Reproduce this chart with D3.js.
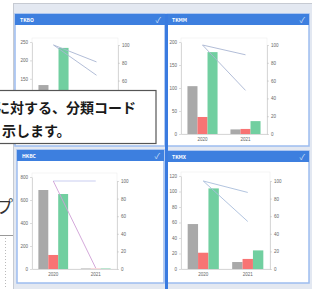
<!DOCTYPE html>
<html>
<head>
<meta charset="utf-8">
<script src="https://cdn.jsdelivr.net/npm/d3@7"></script>
<style>
html, body { margin: 0; padding: 0; background: #fff; overflow: hidden; }
svg { display: block; font-family: "Noto Sans CJK JP", "Noto Sans", sans-serif; }
</style>
</head>
<body>
<div id="chart"></div>
<script>
const years = ["2020", "2021"];
const barKeys = ["gray", "red", "green"];
const titles = ["TKBO", "TKMM", "HKBC", "TKMX"];
const grayValues = [[133, 12], [104, 10], [687, 4], [58, 9]];
const redValues = [[30, 8], [37, 11], [122, 2], [21, 13]];
const greenValues = [[234, 25], [178, 28], [652, 4], [104, 24]];
const lineAValues = [[100, 81], [100, 89], [100, 100], [100, 87]];
const lineBValues = [[100, 66], [100, 49], [100, 1], [100, 54]];
const leftMax = [250, 200, 800, 120];
const leftStep = [50, 50, 200, 20];
const rightTicks = [0, 20, 40, 60, 80, 100];
const calloutLines = ["に対する、分類コード", "示します。"];

const barColors = { gray: "#a9a9a9", red: "#f87474", green: "#71cfa0" };
const lineColors = [["#a9b6d3", "#a9b6d3"], ["#a9b6d3", "#a9b6d3"], ["#c3c7ee", "#cf9fd6"], ["#a9bddb", "#a9bddb"]];

// panel geometry
const layout = [
  { x: 15, y: 14, w: 150, h: 132, left: 32, right: 118, top: 42, base: 134, rTop: 45 },
  { x: 167, y: 14, w: 142, h: 132, left: 181, right: 267, top: 42, base: 134, rTop: 45 },
  { x: 17, y: 150, w: 147, h: 133, left: 32, right: 117, top: 177, base: 269, rTop: 181 },
  { x: 167, y: 151, w: 142, h: 132, left: 181, right: 270, top: 176, base: 269, rTop: 181 }
];

const svg = d3.select("#chart").append("svg")
  .attr("width", 312)
  .attr("height", 289);

// outer container
svg.append("rect")
  .attr("x", 13.5).attr("y", 3.5)
  .attr("width", 310).attr("height", 300)
  .style("fill", "#e3e8f1")
  .style("stroke", "#c6cad2");

layout.forEach((p, i) => {
  const card = svg.append("g");

  card.append("rect")
    .attr("x", p.x).attr("y", p.y)
    .attr("width", p.w).attr("height", p.h)
    .style("fill", "#fff")
    .style("stroke", "#9dbcef")
    .style("stroke-width", 1.5);

  card.append("rect")
    .attr("x", p.x).attr("y", p.y)
    .attr("width", p.w).attr("height", 11)
    .style("fill", "#3d7fdf");

  card.append("text")
    .attr("x", p.x + 5).attr("y", p.y + 7.5)
    .style("font-size", "5px")
    .style("font-weight", "bold")
    .style("fill", "#fff")
    .text(titles[i]);

  card.append("text")
    .attr("x", p.x + p.w - 4).attr("y", p.y + 8.5)
    .attr("text-anchor", "end")
    .style("font-size", "8px")
    .style("fill", "rgba(255,255,255,0.75)")
    .text("✓");

  const x0 = d3.scaleBand().domain(years).range([p.left, p.right]).paddingInner(0.3).paddingOuter(0.15);
  const x1 = d3.scaleBand().domain(barKeys).range([0, x0.bandwidth()]);
  const yL = d3.scaleLinear().domain([0, leftMax[i]]).range([p.base, p.top]);
  const yR = d3.scaleLinear().domain([0, 100]).range([p.base, p.rTop]);

  card.append("rect")
    .attr("x", p.left).attr("y", p.top - 4)
    .attr("width", p.right - p.left).attr("height", p.base - p.top + 4)
    .style("fill", "none")
    .style("stroke", "#eeeeee")
    .style("stroke-width", 0.6);

  const styleAxis = (g) => {
    g.selectAll("text").style("font-size", "4.5px").style("fill", "#666");
    g.selectAll("line").style("stroke", "#bbb").style("stroke-width", 0.5);
    g.select(".domain").style("stroke", "#c8c8c8").style("stroke-width", 0.7);
  };

  card.append("g")
    .attr("transform", `translate(${p.left},0)`)
    .call(d3.axisLeft(yL).tickValues(d3.range(0, leftMax[i] + 1, leftStep[i])).tickSize(2).tickPadding(2).tickSizeOuter(0))
    .call(styleAxis);

  card.append("g")
    .attr("transform", `translate(${p.right},0)`)
    .call(d3.axisRight(yR).tickValues(rightTicks).tickSize(2).tickPadding(2).tickSizeOuter(0))
    .call(styleAxis);

  card.append("g")
    .attr("transform", `translate(0,${p.base})`)
    .call(d3.axisBottom(x0).tickSize(0).tickPadding(4))
    .call(styleAxis);

  const seriesValues = { gray: grayValues[i], red: redValues[i], green: greenValues[i] };
  years.forEach((yr, j) => {
    card.append("g").selectAll("rect").data(barKeys).enter().append("rect")
      .attr("x", (k) => x0(yr) + x1(k))
      .attr("y", (k) => yL(seriesValues[k][j]))
      .attr("width", x1.bandwidth())
      .attr("height", (k) => p.base - yL(seriesValues[k][j]))
      .style("fill", (k) => barColors[k]);
  });

  const line = d3.line()
    .x((d, j) => x0(years[j]) + x0.bandwidth() / 2)
    .y((d) => yR(d));

  [lineAValues[i], lineBValues[i]].forEach((vals, li) => {
    card.append("path")
      .attr("d", line(vals))
      .style("fill", "none")
      .style("stroke", lineColors[i][li])
      .style("stroke-width", 0.9);
  });
});

// highlighted edge of the right column
svg.append("rect")
  .attr("x", 165).attr("y", 14)
  .attr("width", 3).attr("height", 280)
  .style("fill", "#3a7be0");

// bits of the page on the left
svg.append("text")
  .attr("x", -4).attr("y", 213)
  .style("font-size", "17px")
  .style("fill", "#333")
  .text("プ");

svg.append("line")
  .attr("x1", 0).attr("x2", 13)
  .attr("y1", 235.5).attr("y2", 235.5)
  .style("stroke", "#999");

svg.append("line")
  .attr("x1", 5.5).attr("x2", 5.5)
  .attr("y1", 238).attr("y2", 289)
  .style("stroke", "#bbb")
  .style("stroke-dasharray", "1,2");

// callout box
svg.append("rect")
  .attr("x", -2).attr("y", 90.5)
  .attr("width", 158).attr("height", 53)
  .style("fill", "#fff")
  .style("stroke", "#555")
  .style("stroke-width", 1.2);

svg.selectAll(".callout").data(calloutLines).enter().append("text")
  .attr("class", "callout")
  .attr("x", (d, i) => i === 0 ? -4 : 2)
  .attr("y", (d, i) => 113 + i * 23)
  .style("font-size", "14px")
  .style("font-weight", "bold")
  .style("fill", "#1a1a1a")
  .text((d) => d);
</script>
</body>
</html>
